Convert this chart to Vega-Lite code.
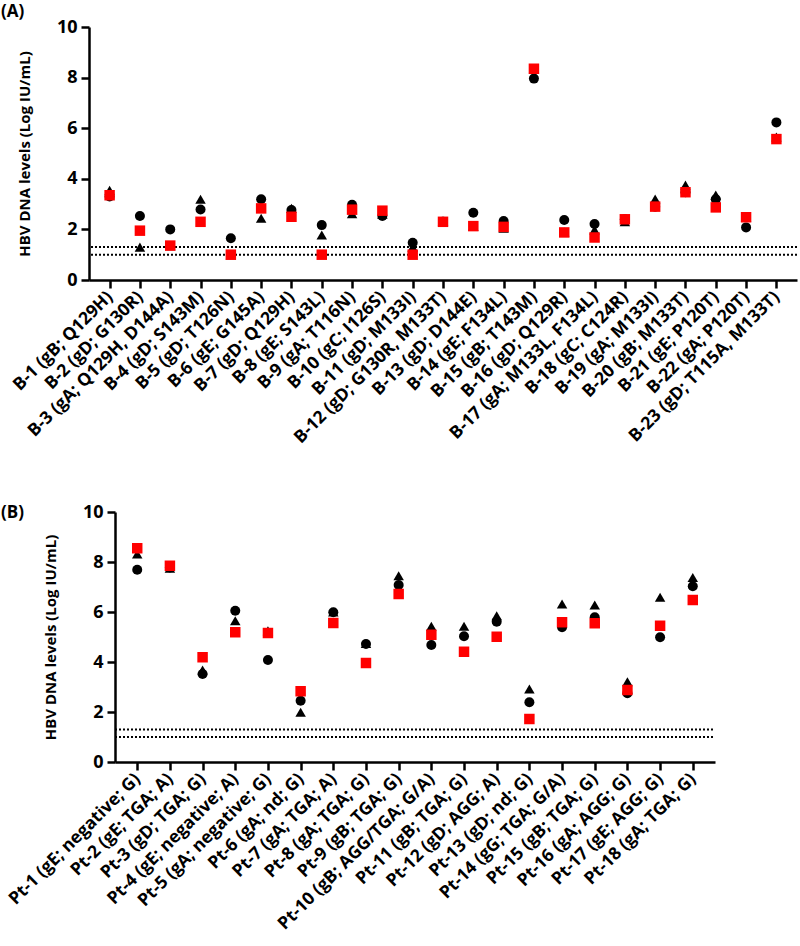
{
  "$schema": "https://vega.github.io/schema/vega-lite/v6.json",
  "padding": {"top": 3, "left": 1, "right": 0, "bottom": 0},
  "background": "white",
  "spacing": 56,
  "config": {
    "font": "Open Sans",
    "view": {"stroke": null},
    "axis": {"domainColor": "black", "domainWidth": 2.5, "tickColor": "black", "tickWidth": 2.5, "tickSize": 8, "labelColor": "black", "labelFontWeight": "bold", "titleFontWeight": "bold", "titleColor": "black", "grid": false, "labelFont": "Open Sans", "titleFont": "Open Sans"},
    "axisX": {"labelAngle": -45, "labelFontSize": 17.5, "labelLimit": 0, "labelAlign": "right", "labelBaseline": "middle", "labelPadding": 6},
    "axisY": {"labelFontSize": 18, "titleFontSize": 15, "titlePadding": 24, "labelPadding": 4, "values": [0, 2, 4, 6, 8, 10]},
    "title": {"fontSize": 17, "fontWeight": "bold", "color": "black", "anchor": "start", "frame": "group"}
  },
  "datasets": {
    "A": [
      {"sample": "B-1 (gB; Q129H)", "circle": 3.3, "triangle": 3.55, "square": 3.35},
      {"sample": "B-2 (gD; G130R)", "circle": 2.53, "triangle": 1.3, "square": 1.95},
      {"sample": "B-3 (gA; Q129H, D144A)", "circle": 2.0, "triangle": 1.36, "square": 1.36},
      {"sample": "B-4 (gD; S143M)", "circle": 2.79, "triangle": 3.19, "square": 2.3},
      {"sample": "B-5 (gD; T126N)", "circle": 1.65, "triangle": 1.0, "square": 1.0},
      {"sample": "B-6 (gE; G145A)", "circle": 3.19, "triangle": 2.44, "square": 2.83},
      {"sample": "B-7 (gD; Q129H)", "circle": 2.77, "triangle": 2.83, "square": 2.5},
      {"sample": "B-8 (gE; S143L)", "circle": 2.17, "triangle": 1.78, "square": 1.0},
      {"sample": "B-9 (gA; T116N)", "circle": 2.97, "triangle": 2.62, "square": 2.78},
      {"sample": "B-10 (gC; I126S)", "circle": 2.53, "triangle": 2.6, "square": 2.74},
      {"sample": "B-11 (gD; M133I)", "circle": 1.47, "triangle": 1.3, "square": 1.0},
      {"sample": "B-12 (gD; G130R, M133T)", "circle": 2.3, "triangle": 2.33, "square": 2.3},
      {"sample": "B-13 (gD; D144E)", "circle": 2.66, "triangle": 2.13, "square": 2.13},
      {"sample": "B-14 (gE; F134L)", "circle": 2.33, "triangle": 2.05, "square": 2.1},
      {"sample": "B-15 (gB; T143M)", "circle": 7.96, "triangle": 8.35, "square": 8.35},
      {"sample": "B-16 (gD; Q129R)", "circle": 2.37, "triangle": 1.9, "square": 1.88},
      {"sample": "B-17 (gA; M133L, F134L)", "circle": 2.21, "triangle": 1.98, "square": 1.68},
      {"sample": "B-18 (gC; C124R)", "circle": 2.4, "triangle": 2.3, "square": 2.4},
      {"sample": "B-19 (gA; M133I)", "circle": 2.9, "triangle": 3.2, "square": 2.9},
      {"sample": "B-20 (gB; M133T)", "circle": 3.47, "triangle": 3.75, "square": 3.47},
      {"sample": "B-21 (gE; P120T)", "circle": 3.19, "triangle": 3.36, "square": 2.87},
      {"sample": "B-22 (gA; P120T)", "circle": 2.08, "triangle": 2.48, "square": 2.48},
      {"sample": "B-23 (gD; T115A, M133T)", "circle": 6.23, "triangle": 5.65, "square": 5.57}
    ],
    "B": [
      {"sample": "Pt-1 (gE; negative; G)", "circle": 7.69, "triangle": 8.32, "square": 8.55},
      {"sample": "Pt-2 (gE; TGA; A)", "circle": 7.78, "triangle": 7.75, "square": 7.85},
      {"sample": "Pt-3 (gD; TGA; G)", "circle": 3.52, "triangle": 3.68, "square": 4.19},
      {"sample": "Pt-4 (gE; negative; A)", "circle": 6.05, "triangle": 5.65, "square": 5.19},
      {"sample": "Pt-5 (gA; negative; G)", "circle": 4.08, "triangle": 5.25, "square": 5.16},
      {"sample": "Pt-6 (gA; nd; G)", "circle": 2.45, "triangle": 1.99, "square": 2.83},
      {"sample": "Pt-7 (gA; TGA; A)", "circle": 5.99, "triangle": 6.0, "square": 5.56},
      {"sample": "Pt-8 (gA; TGA; G)", "circle": 4.72, "triangle": 4.74, "square": 3.96},
      {"sample": "Pt-9 (gB; TGA; G)", "circle": 7.08, "triangle": 7.45, "square": 6.72},
      {"sample": "Pt-10 (gB; AGG/TGA; G/A)", "circle": 4.68, "triangle": 5.43, "square": 5.09},
      {"sample": "Pt-11 (gB; TGA; G)", "circle": 5.03, "triangle": 5.43, "square": 4.41},
      {"sample": "Pt-12 (gD; AGG; A)", "circle": 5.61, "triangle": 5.85, "square": 5.01},
      {"sample": "Pt-13 (gD; nd; G)", "circle": 2.39, "triangle": 2.92, "square": 1.72},
      {"sample": "Pt-14 (gG; TGA; G/A)", "circle": 5.39, "triangle": 6.32, "square": 5.59},
      {"sample": "Pt-15 (gB; TGA; G)", "circle": 5.79, "triangle": 6.28, "square": 5.55},
      {"sample": "Pt-16 (gA; AGG; G)", "circle": 2.75, "triangle": 3.21, "square": 2.88},
      {"sample": "Pt-17 (gE; AGG; G)", "circle": 4.99, "triangle": 6.59, "square": 5.45},
      {"sample": "Pt-18 (gA; TGA; G)", "circle": 7.03, "triangle": 7.38, "square": 6.48}
    ],
    "lod": [{"lod": 1.0}, {"lod": 1.3}]
  },
  "vconcat": [
    {
      "title": {"text": "(A)", "dx": -88, "offset": -3},
      "width": 708,
      "height": 253,
      "layer": [
        {
          "data": {"name": "lod"},
          "mark": {"type": "rule", "strokeDash": [2, 2], "strokeWidth": 2, "color": "black"},
          "encoding": {"y": {"field": "lod", "type": "quantitative", "title": "HBV DNA levels (Log IU/mL)", "scale": {"domain": [0, 10], "nice": false}}}
        },
        {
          "data": {"name": "A"},
          "mark": {"type": "point", "shape": "triangle-up", "filled": true, "color": "black", "opacity": 1, "size": 110},
          "encoding": {
            "x": {"field": "sample", "type": "nominal", "sort": null, "title": null, "scale": {"type": "point", "padding": 0.68}},
            "y": {"field": "triangle", "type": "quantitative", "title": "HBV DNA levels (Log IU/mL)"}
          }
        },
        {
          "data": {"name": "A"},
          "mark": {"type": "point", "shape": "circle", "filled": true, "color": "black", "opacity": 1, "size": 100},
          "encoding": {
            "x": {"field": "sample", "type": "nominal", "sort": null, "title": null},
            "y": {"field": "circle", "type": "quantitative", "title": "HBV DNA levels (Log IU/mL)"}
          }
        },
        {
          "data": {"name": "A"},
          "mark": {"type": "point", "shape": "square", "filled": true, "color": "#ff0000", "opacity": 1, "size": 110},
          "encoding": {
            "x": {"field": "sample", "type": "nominal", "sort": null, "title": null},
            "y": {"field": "square", "type": "quantitative", "title": "HBV DNA levels (Log IU/mL)"}
          }
        }
      ]
    },
    {
      "title": {"text": "(B)", "dx": -88, "offset": -19},
      "width": 626,
      "height": 250,
      "resolve": {"scale": {"x": "independent"}},
      "layer": [
        {
          "data": {"name": "lod"},
          "mark": {"type": "rule", "strokeDash": [2, 2], "strokeWidth": 2, "color": "black"},
          "encoding": {
            "x": {"datum": 0, "type": "quantitative", "scale": {"domain": [0, 1], "range": [26, 626]}, "axis": null},
            "x2": {"datum": 1},
            "y": {"field": "lod", "type": "quantitative", "title": "HBV DNA levels (Log IU/mL)", "scale": {"domain": [0, 10], "nice": false}, "axis": {"offset": -26}}
          }
        },
        {
          "layer": [
            {
              "data": {"name": "B"},
              "mark": {"type": "point", "shape": "triangle-up", "filled": true, "color": "black", "opacity": 1, "size": 110},
              "encoding": {
                "x": {"field": "sample", "type": "nominal", "sort": null, "title": null, "scale": {"type": "point", "padding": 0.68, "range": [26, 626]}},
                "y": {"field": "triangle", "type": "quantitative", "title": "HBV DNA levels (Log IU/mL)"}
              }
            },
            {
              "data": {"name": "B"},
              "mark": {"type": "point", "shape": "circle", "filled": true, "color": "black", "opacity": 1, "size": 100},
              "encoding": {
                "x": {"field": "sample", "type": "nominal", "sort": null, "title": null},
                "y": {"field": "circle", "type": "quantitative", "title": "HBV DNA levels (Log IU/mL)"}
              }
            },
            {
              "data": {"name": "B"},
              "mark": {"type": "point", "shape": "square", "filled": true, "color": "#ff0000", "opacity": 1, "size": 110},
              "encoding": {
                "x": {"field": "sample", "type": "nominal", "sort": null, "title": null},
                "y": {"field": "square", "type": "quantitative", "title": "HBV DNA levels (Log IU/mL)"}
              }
            }
          ]
        }
      ]
    }
  ]
}
